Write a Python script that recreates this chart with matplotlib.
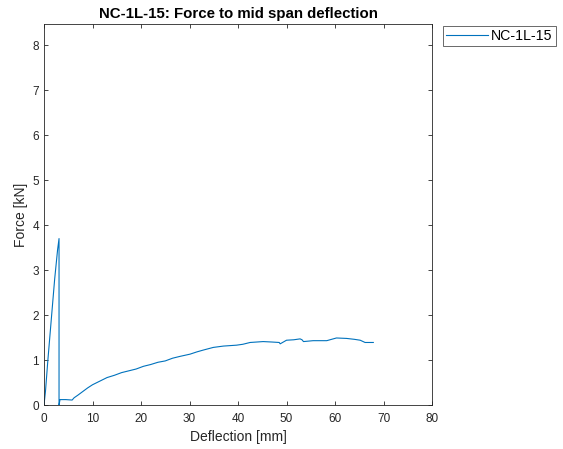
import matplotlib.pyplot as plt

# Deflection [mm] and force [kN]
deflection = [0.0, 0.3, 0.8, 1.5, 2.2, 2.8, 3.1, 3.1, 3.3, 4.5, 5.8, 6.2,
              7.0, 8.0, 9.0, 10.0, 11.5, 13.0, 14.5, 16.0, 17.5, 19.0,
              20.5, 22.0, 23.5, 25.0, 26.5, 28.0, 30.1, 31.5, 32.8, 34.9,
              37.0, 39.7, 41.0, 42.5, 45.2, 47.0, 48.5, 48.7, 50.0, 51.5,
              52.8, 53.2, 53.5, 55.5, 58.3, 60.3, 62.4, 64.0, 65.2, 66.2,
              67.9]
force = [0.0, 0.3, 1.0, 1.9, 2.8, 3.45, 3.7, 0.0, 0.12, 0.12, 0.11, 0.16,
         0.22, 0.3, 0.38, 0.45, 0.53, 0.61, 0.66, 0.72, 0.76, 0.8,
         0.86, 0.9, 0.95, 0.98, 1.04, 1.08, 1.13, 1.18, 1.22, 1.28,
         1.31, 1.33, 1.35, 1.39, 1.41, 1.40, 1.39, 1.36, 1.44, 1.45,
         1.47, 1.45, 1.41, 1.43, 1.43, 1.49, 1.48, 1.46, 1.44, 1.39,
         1.39]

plt.rcParams['font.family'] = ['Liberation Sans', 'DejaVu Sans']

fig = plt.figure(figsize=(5.63, 4.49), dpi=100)
ax = fig.add_axes([44/563, 1 - 405/449, 388/563, 381/449])

line, = ax.plot(deflection, force, color='#0072BD', linewidth=0.8,
                label='NC-1L-15')

ax.set_xlim(0, 80)
ax.set_ylim(0, 8.47)
ax.set_xticks(range(0, 81, 10))
ax.set_yticks(range(0, 9))

grey = '#262626'
ax.tick_params(direction='in', top=True, right=True, length=3,
               labelsize=8.5, colors=grey, width=0.6)
ax.tick_params(axis='x', pad=6)
for s in ax.spines.values():
    s.set_color(grey)
    s.set_linewidth(0.6)

ax.set_xlabel('Deflection [mm]', fontsize=10, color=grey, labelpad=3)
ax.set_ylabel('Force [kN]', fontsize=10, color=grey, labelpad=3)
ax.set_title('NC-1L-15: Force to mid span deflection', fontsize=10.8,
             fontweight='bold', color='black', pad=4)

leg = fig.legend(handles=[line], loc='upper left',
                 bbox_to_anchor=(443/563, 1 - 26/449), fontsize=10.2,
                 frameon=True, fancybox=False, borderpad=0.2,
                 handlelength=3.0, handletextpad=0.2, borderaxespad=0)
leg.get_frame().set_edgecolor(grey)
leg.get_frame().set_linewidth(0.6)

fig.savefig('out.png', dpi=100)
